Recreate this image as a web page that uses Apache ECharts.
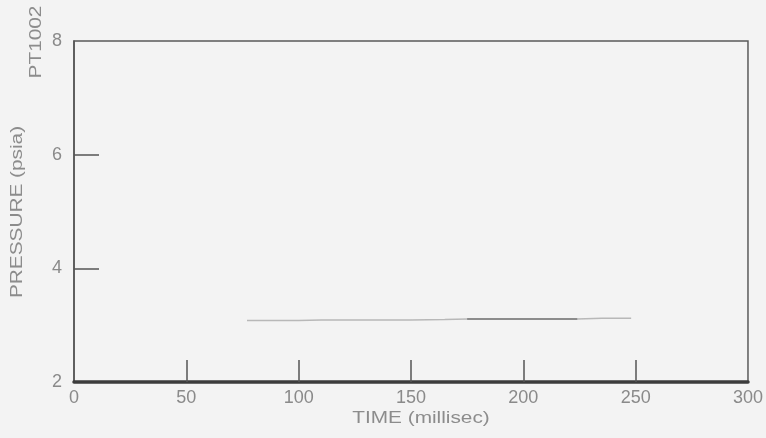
<!DOCTYPE html>
<html>
<head>
<meta charset="utf-8">
<script src="https://cdn.jsdelivr.net/npm/echarts@6/dist/echarts.min.js"></script>
<style>
  html, body { margin: 0; padding: 0; background: #f3f3f3; }
  #chart { width: 766px; height: 438px; }
</style>
</head>
<body>
<div id="chart"></div>
<script>
// time axis (ms) and pressure trace (psia)
const timeMs = [77, 90, 100, 110, 125, 140, 150, 165, 175, 190, 200, 210, 224, 235, 248]
const pressure = [3.08, 3.08, 3.08, 3.09, 3.09, 3.09, 3.09, 3.10, 3.11, 3.11, 3.11, 3.11, 3.11, 3.12, 3.12]
// darker stretch of the trace
const darkTime = [175, 190, 200, 210, 224]
const darkPressure = [3.11, 3.11, 3.11, 3.11, 3.11]

const xTicks = [50, 100, 150, 200, 250]
const yTicks = [4, 6]

const labelFont = {
  color: '#8a8a8a',
  fontFamily: 'Liberation Sans',
  fontSize: 18
}

const titleStyle = {
  fill: '#8c8c8c',
  font: '16px "Liberation Sans"',
  align: 'center',
  verticalAlign: 'middle'
}

const chart = echarts.init(document.getElementById('chart'), null, { renderer: 'canvas' })

const option = {
  backgroundColor: '#f3f3f3',
  animation: false,
  grid: {
    left: 74,
    right: 11,
    top: 41,
    bottom: 56,
    show: true,
    borderColor: '#5a5a5a',
    borderWidth: 1.5
  },
  xAxis: {
    type: 'value',
    min: 0,
    max: 300,
    interval: 50,
    splitLine: { show: false },
    axisLine: { lineStyle: { color: '#3c3c3c', width: 3.5 } },
    axisTick: {
      inside: true,
      length: 22,
      customValues: xTicks,
      lineStyle: { color: '#555', width: 1.5 }
    },
    axisLabel: { ...labelFont, margin: 7 }
  },
  yAxis: {
    type: 'value',
    min: 2,
    max: 8,
    interval: 2,
    splitLine: { show: false },
    axisLine: { lineStyle: { color: '#555', width: 1.5 } },
    axisTick: {
      inside: true,
      length: 25,
      customValues: yTicks,
      lineStyle: { color: '#555', width: 1.5 }
    },
    axisLabel: { ...labelFont, margin: 12 }
  },
  graphic: [
    {
      type: 'text',
      x: 18,
      y: 212,
      rotation: Math.PI / 2,
      scaleX: 1.3,
      style: { text: 'PRESSURE (psia)', ...titleStyle }
    },
    {
      type: 'text',
      x: 37,
      y: 42,
      rotation: Math.PI / 2,
      scaleX: 1.3,
      style: { text: 'PT1002', ...titleStyle }
    },
    {
      type: 'text',
      x: 421,
      y: 419,
      scaleX: 1.3,
      style: { text: 'TIME (millisec)', ...titleStyle }
    }
  ],
  series: [
    {
      type: 'line',
      symbol: 'none',
      lineStyle: { color: '#b8b8b8', width: 1.5 },
      data: timeMs.map((t, i) => [t, pressure[i]])
    },
    {
      type: 'line',
      symbol: 'none',
      lineStyle: { color: '#8c8c8c', width: 2 },
      data: darkTime.map((t, i) => [t, darkPressure[i]])
    }
  ]
}

chart.setOption(option)
</script>
</body>
</html>
